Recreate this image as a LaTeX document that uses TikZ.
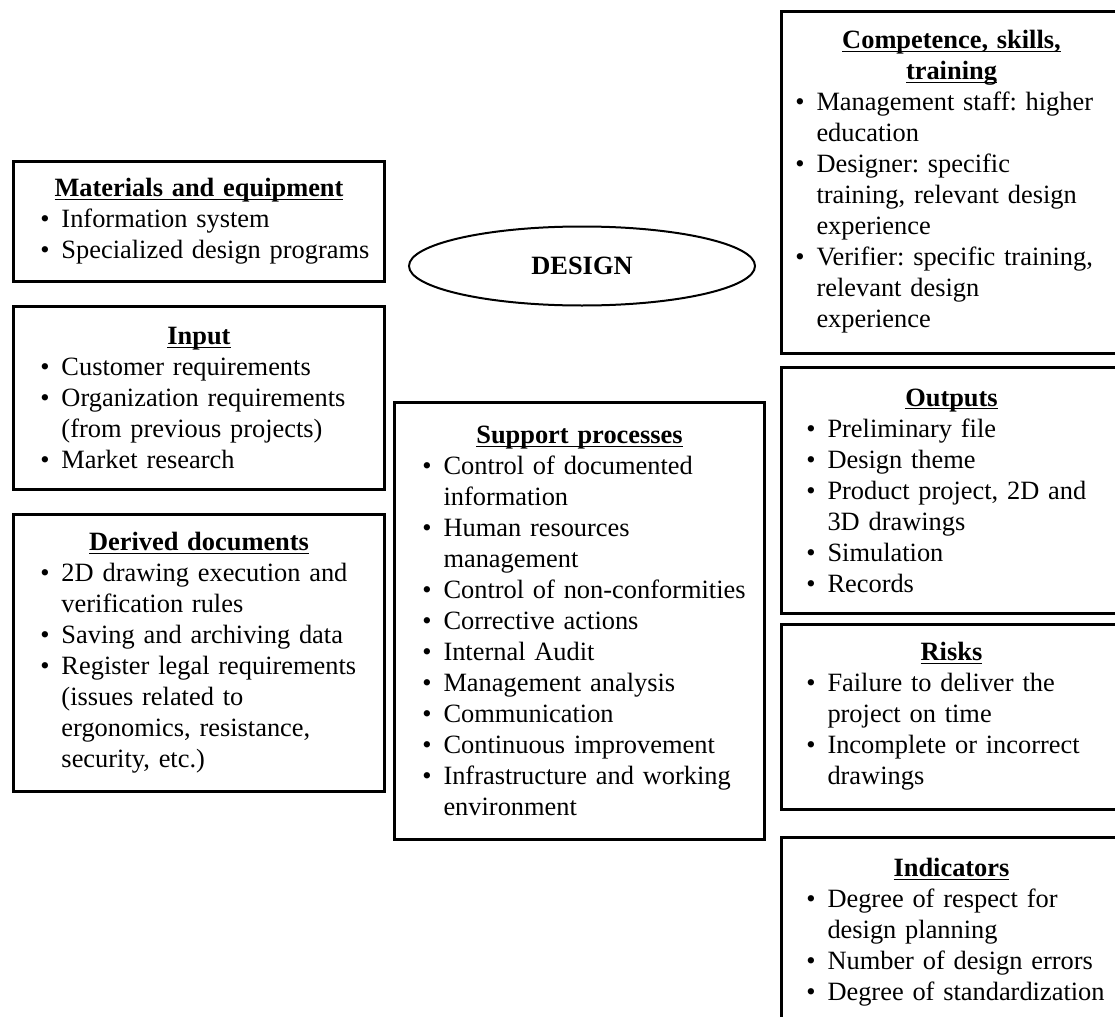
\documentclass[tikz,border=0pt]{standalone}
\usepackage{fontspec}
\setmainfont{Liberation Serif}
\usepackage{enumitem}
\usetikzlibrary{shapes.geometric}
\setlist[itemize]{label=\textbullet,leftmargin=24pt,labelsep=6pt,itemsep=0pt,topsep=0pt,parsep=0pt,partopsep=0pt}
\newcommand{\boxhead}[1]{\centerline{\textbf{\underline{\smash{#1}}}\vphantom{Ag}}}
\frenchspacing

\begin{document}
\begin{tikzpicture}[x=0.5pt,y=-0.5pt,
		every node/.style={font=\fontsize{13.2}{15.5}\selectfont\frenchspacing},
		infobox/.style={draw,line width=1.5pt,anchor=north west,inner xsep=0pt,inner ysep=0pt,align=left}]
		\useasboundingbox (0,0) rectangle (1115,1017);
		\clip (0,0) rectangle (1115,1017);

		\node[infobox,text width=185.5pt,minimum height=60pt] (mat) at (12,160) {\boxhead{Materials and equipment}
			\begin{itemize}
				\item Information system
				\item Specialized design programs
			\end{itemize}};
		\node[infobox,text width=185.5pt,minimum height=91.5pt] (inp) at (12,305) {\boxhead{Input}
			\begin{itemize}
				\item Customer requirements
				\item Organization requirements\\(from previous projects)
				\item Market research
			\end{itemize}};
		\node[infobox,text width=185.5pt,minimum height=138.5pt] (der) at (12,513) {\boxhead{Derived documents}
			\begin{itemize}
				\item 2D drawing execution and\\verification rules
				\item Saving and archiving data
				\item Register legal requirements\\(issues related to\\ergonomics, resistance,\\security, etc.)
			\end{itemize}};

		\node[ellipse,draw,line width=1pt,minimum width=173pt,minimum height=39.5pt] (design) at (582,266) {\textbf{DESIGN}};

		\node[infobox,text width=185pt,minimum height=218.5pt] (sup) at (393,401) {\boxhead{Support processes}
			\begin{itemize}[leftmargin=24.5pt]
				\item Control of documented\\information
				\item Human resources\\management
				\item Control of non-conformities
				\item Corrective actions
				\item Internal Audit
				\item Management analysis
				\item Communication
				\item Continuous improvement
				\item Infrastructure and working\\environment
			\end{itemize}};

		\node[infobox,text width=170pt,minimum height=171pt] (comp) at (780,10) {\boxhead{Competence, skills,}
			\boxhead{training}
			\begin{itemize}[leftmargin=17.5pt]
				\item Management staff: higher\\education
				\item Designer: specific\\training, relevant design\\experience
				\item Verifier: specific training,\\relevant design\\experience
			\end{itemize}};
		\node[infobox,text width=170pt,minimum height=123pt] (outp) at (780,366) {\boxhead{Outputs}
			\begin{itemize}[leftmargin=23pt]
				\item Preliminary file
				\item Design theme
				\item Product project, 2D and\\3D drawings
				\item Simulation
				\item Records
			\end{itemize}};
		\node[infobox,text width=170pt,minimum height=92.5pt] (risk) at (780,623) {\boxhead{Risks}
			\begin{itemize}[leftmargin=23pt]
				\item Failure to deliver the\\project on time
				\item Incomplete or incorrect\\drawings
			\end{itemize}};
		\node[infobox,text width=170pt,minimum height=95pt] (ind) at (780,836) {\boxhead{Indicators}
			\begin{itemize}[leftmargin=23pt]
				\item Degree of respect for\\design planning
				\item Number of design errors
				\item Degree of standardization
			\end{itemize}};
\end{tikzpicture}
\end{document}
